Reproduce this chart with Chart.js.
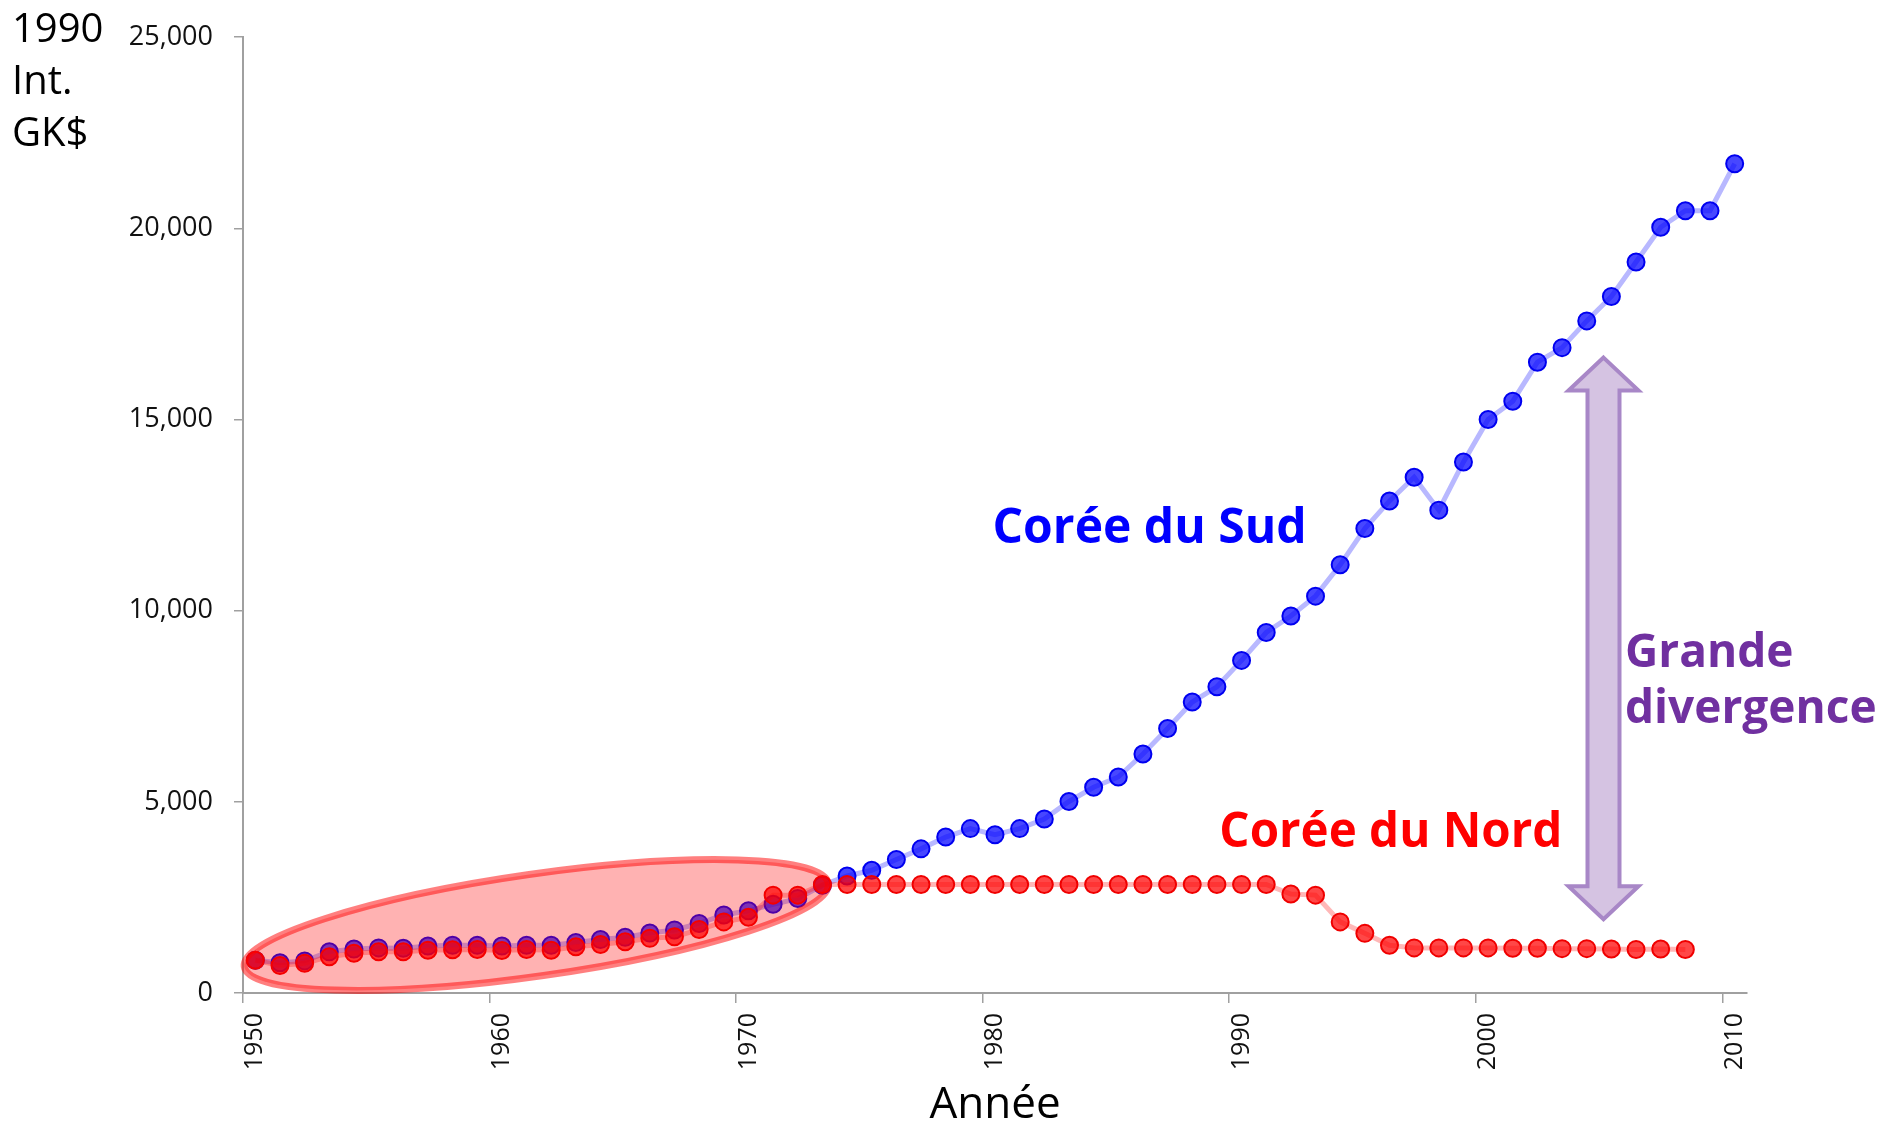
<!DOCTYPE html>
<html>
<head>
<meta charset="utf-8">
<title>Corée du Sud / Corée du Nord</title>
<script src="https://cdn.jsdelivr.net/npm/chart.js@4.4.1/dist/chart.umd.min.js"></script>
<style>
  html, body { margin: 0; padding: 0; background: #fff; }
  #chartBox { width: 1879px; height: 1127px; }
</style>
</head>
<body>
<div id="chartBox"><canvas id="gdpChart" width="1879" height="1127"></canvas></div>
<script>
// ----------------------------
// Données (PIB par habitant, 1990 Int. GK$)
// ----------------------------
const years = [
  '1950', '1951', '1952', '1953', '1954', '1955', '1956', '1957', '1958', '1959',
  '1960', '1961', '1962', '1963', '1964', '1965', '1966', '1967', '1968', '1969',
  '1970', '1971', '1972', '1973', '1974', '1975', '1976', '1977', '1978', '1979',
  '1980', '1981', '1982', '1983', '1984', '1985', '1986', '1987', '1988', '1989',
  '1990', '1991', '1992', '1993', '1994', '1995', '1996', '1997', '1998', '1999',
  '2000', '2001', '2002', '2003', '2004', '2005', '2006', '2007', '2008', '2009',
  '2010'
];

const southKorea = [
  855, 790, 840, 1080, 1150, 1180, 1170, 1230, 1250, 1250,
  1230, 1250, 1250, 1320, 1400, 1460, 1570, 1650, 1820, 2040,
  2150, 2320, 2470, 2820, 3060, 3210, 3490, 3770, 4080, 4300,
  4140, 4300, 4550, 5010, 5380, 5650, 6250, 6920, 7610, 8010,
  8700, 9430, 9860, 10380, 11200, 12150, 12870, 13490, 12630, 13890,
  15000, 15480, 16500, 16880, 17580, 18220, 19120, 20030, 20460, 20460,
  21690
];

// 1950 - 2008
const northKorea = [
  855, 720, 780, 950, 1040, 1080, 1080, 1120, 1130, 1140,
  1110, 1140, 1120, 1210, 1270, 1340, 1430, 1470, 1660, 1860,
  1980, 2560, 2560, 2840, 2840, 2840, 2840, 2840, 2840, 2840,
  2840, 2840, 2840, 2840, 2840, 2840, 2840, 2840, 2840, 2840,
  2840, 2840, 2590, 2560, 1860, 1560, 1250, 1180, 1180, 1180,
  1180, 1170, 1170, 1160, 1160, 1150, 1140, 1150, 1140
];

const yTicks = [0, 5000, 10000, 15000, 20000, 25000];
const yAxisTitle = ['1990', 'Int.', 'GK$'];
const xAxisTitle = 'Année';

const FONT = '"Open Sans", "Noto Sans", sans-serif';
const axisGray = '#A0A0A0';

// ----------------------------
// Annotations : textes, ellipse, flèche
// ----------------------------
const notes = [
  { lines: ['Corée du Sud'], index: 29.9, value: 11760, color: '#0000FF', size: 48 },
  { lines: ['Corée du Nord'], index: 39.1, value: 3816, color: '#FF0000', size: 47.5 },
  { lines: ['Grande', 'divergence'], index: 55.55, value: 8520, color: '#7030A0', size: 46 }
];

const highlight = { from: [-0.57, 680], to: [23.36, 2875], halfHeight: 51 };
const gapArrow = { index: 54.68, top: 16620, bottom: 1930 };

const notesPlugin = {
  id: 'notesPlugin',
  afterDatasetsDraw(chart) {
    const { ctx, scales: { x, y } } = chart;

    // ellipse rouge (période de croissance commune)
    const x1 = x.getPixelForValue(highlight.from[0]);
    const y1 = y.getPixelForValue(highlight.from[1]);
    const x2 = x.getPixelForValue(highlight.to[0]);
    const y2 = y.getPixelForValue(highlight.to[1]);
    const cx = (x1 + x2) / 2, cy = (y1 + y2) / 2;
    const semiMajor = Math.hypot(x2 - x1, y2 - y1) / 2 - 3;
    const angle = Math.atan2(y2 - y1, x2 - x1);
    ctx.save();
    ctx.beginPath();
    ctx.ellipse(cx, cy, semiMajor, highlight.halfHeight, angle, 0, Math.PI * 2);
    ctx.fillStyle = 'rgba(255, 0, 0, 0.3)';
    ctx.fill();
    ctx.lineWidth = 7;
    ctx.strokeStyle = 'rgba(255, 0, 0, 0.5)';
    ctx.stroke();
    ctx.restore();

    // double flèche violette
    const ax = x.getPixelForValue(gapArrow.index);
    const top = y.getPixelForValue(gapArrow.top);
    const bottom = y.getPixelForValue(gapArrow.bottom);
    const head = 35, headLen = 33, shaft = 16;
    ctx.save();
    ctx.beginPath();
    ctx.moveTo(ax, top);
    ctx.lineTo(ax + head, top + headLen);
    ctx.lineTo(ax + shaft, top + headLen);
    ctx.lineTo(ax + shaft, bottom - headLen);
    ctx.lineTo(ax + head, bottom - headLen);
    ctx.lineTo(ax, bottom);
    ctx.lineTo(ax - head, bottom - headLen);
    ctx.lineTo(ax - shaft, bottom - headLen);
    ctx.lineTo(ax - shaft, top + headLen);
    ctx.lineTo(ax - head, top + headLen);
    ctx.closePath();
    ctx.fillStyle = '#D5C3E2';
    ctx.fill();
    ctx.lineWidth = 4;
    ctx.strokeStyle = '#A887C7';
    ctx.stroke();
    ctx.restore();
  },
  afterDraw(chart) {
    const { ctx, scales: { x, y } } = chart;
    ctx.save();
    ctx.textAlign = 'left';
    ctx.textBaseline = 'alphabetic';
    notes.forEach(n => {
      ctx.font = 'bold ' + n.size + 'px ' + FONT;
      ctx.fillStyle = n.color;
      const px = x.getPixelForValue(n.index);
      const py = y.getPixelForValue(n.value);
      n.lines.forEach((line, i) => ctx.fillText(line, px, py + i * 56));
    });

    // titre de l'axe vertical, en haut à gauche
    ctx.font = '40px ' + FONT;
    ctx.fillStyle = '#000';
    yAxisTitle.forEach((line, i) => ctx.fillText(line, 12, 42 + i * 52));
    ctx.restore();
  }
};

const ctx = document.getElementById('gdpChart').getContext('2d');
new Chart(ctx, {
  type: 'line',
  data: {
    labels: years,
    datasets: [
      {
        label: 'Corée du Sud',
        data: southKorea,
        order: 1,
        borderColor: 'rgba(0, 0, 255, 0.28)',
        borderWidth: 5,
        pointRadius: 8.5,
        pointBorderWidth: 2,
        pointBackgroundColor: 'rgba(0, 0, 255, 0.72)',
        pointBorderColor: '#0000F0',
        tension: 0
      },
      {
        label: 'Corée du Nord',
        data: northKorea,
        order: 0,
        borderColor: 'rgba(255, 0, 0, 0.28)',
        borderWidth: 5,
        pointRadius: 8.5,
        pointBorderWidth: 2,
        pointBackgroundColor: 'rgba(255, 0, 0, 0.72)',
        pointBorderColor: '#F00000',
        tension: 0
      }
    ]
  },
  options: {
    responsive: false,
    animation: false,
    layout: { padding: { left: 0, right: 132, top: 35, bottom: 0 } },
    plugins: {
      legend: { display: false },
      tooltip: { enabled: false }
    },
    scales: {
      x: {
        type: 'category',
        offset: true,
        afterFit(scale) { scale.height = 134; },
        grid: {
          offset: true,
          drawOnChartArea: false,
          tickLength: 10,
          lineWidth: 1.5,
          color: c => (c.index % 10 === 0 ? axisGray : 'rgba(0,0,0,0)')
        },
        border: { display: true, color: axisGray, width: 2 },
        ticks: {
          autoSkip: false,
          minRotation: 90,
          maxRotation: 90,
          padding: 10,
          color: '#111',
          font: { family: FONT, size: 25 },
          callback: function (value) {
            const lab = this.getLabelForValue(value);
            return Number(lab) % 10 === 0 ? lab : '';
          }
        },
        title: {
          display: true,
          text: xAxisTitle,
          color: '#000',
          padding: 0,
          font: { family: FONT, size: 44, lineHeight: 1 }
        }
      },
      y: {
        min: yTicks[0],
        max: yTicks[yTicks.length - 1],
        afterFit(scale) { scale.width = 243; },
        afterBuildTicks(scale) { scale.ticks = yTicks.map(v => ({ value: v })); },
        grid: {
          drawOnChartArea: false,
          tickLength: 9,
          lineWidth: 1.5,
          color: axisGray
        },
        border: { display: true, color: axisGray, width: 2 },
        ticks: {
          padding: 21,
          color: '#111',
          font: { family: FONT, size: 27 },
          callback: v => v.toLocaleString('en-US')
        }
      }
    }
  },
  plugins: [notesPlugin]
});
</script>
</body>
</html>
